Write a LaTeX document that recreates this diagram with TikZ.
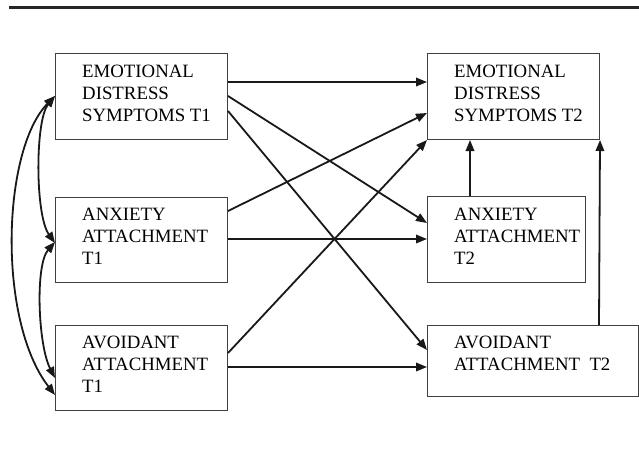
\documentclass[tikz,border=0pt]{standalone}
\usepackage{fontspec}
\setmainfont{Liberation Serif}
\usetikzlibrary{arrows.meta,calc}
\tikzset{
  box/.style={draw=black!75, line width=1pt, rectangle, inner sep=0pt, anchor=north west},
  lbl/.style={inner sep=0pt, anchor=north west, align=left, font=\fontsize{18.8}{22}\selectfont, text=black},
  arr/.style={draw=black!90, line width=1.8pt, -{Triangle[length=11pt,width=8.5pt]}},
  darr/.style={draw=black!90, line width=1.8pt, {Triangle[length=11pt,width=8.5pt]}-{Triangle[length=11pt,width=8.5pt]}},
  rulebar/.style={draw=black!85, line width=3pt}
}
\begin{document}
\begin{tikzpicture}[x=1pt,y=-1pt]
\useasboundingbox (0,0) rectangle (639,452);
\fill[white] (0,0) rectangle (639,452);
\coordinate (r1) at (9,7.5);
\coordinate (r2) at (639,7.5);
\draw[rulebar] (r1) -- (r2);

% boxes
\node[box, minimum width=172pt, minimum height=86pt] (eds1) at (55,53) {};
\node[box, minimum width=172pt, minimum height=85pt] (anx1) at (55,197) {};
\node[box, minimum width=172pt, minimum height=85pt] (avo1) at (55,325) {};
\node[box, minimum width=172pt, minimum height=86pt] (eds2) at (427,53) {};
\node[box, minimum width=158pt, minimum height=86pt] (anx2) at (427,196) {};
\node[box, minimum width=211pt, minimum height=71pt] (avo2) at (427,325) {};

% labels
\node[lbl] (teds1) at (82,64.7) {EMOTIONAL\\DISTRESS\\SYMPTOMS T1};
\node[lbl] (tanx1) at (82,207.7) {ANXIETY\\ATTACHMENT\\T1};
\node[lbl] (tavo1) at (82,335.7) {AVOIDANT\\ATTACHMENT\\T1};
\node[lbl] (teds2) at (454,64.7) {EMOTIONAL\\DISTRESS\\SYMPTOMS T2};
\node[lbl] (tanx2) at (454,207.7) {ANXIETY\\ATTACHMENT\\T2};
\node[lbl] (tavo2) at (454,335.7) {AVOIDANT\\ATTACHMENT\ \ T2};

% cross-lagged arrows
\draw[arr] ($(eds1.north east)+(0,29)$) -- ($(eds2.north west)+(0,29)$);
\draw[arr] ($(eds1.north east)+(0,43)$) -- ($(anx2.north west)+(0,27)$);
\draw[arr] ($(eds1.north east)+(0,58)$) -- ($(avo2.north west)+(0,25)$);
\draw[arr] ($(anx1.north east)+(0,14)$) -- ($(eds2.north west)+(0,60)$);
\draw[arr] ($(anx1.north east)+(0,42)$) -- ($(anx2.north west)+(0,43)$);
\draw[arr] ($(avo1.north east)+(0,28)$) -- (eds2.south west);
\draw[arr] ($(avo1.north east)+(0,42)$) -- ($(avo2.north west)+(0,42)$);

% vertical arrows
\draw[arr] ($(anx2.north west)+(43,0)$) -- ($(eds2.south west)+(43,0)$);
\draw[arr] ($(avo2.north west)+(172,0)$) -- (eds2.south east);

% correlations
\draw[darr] ($(eds1.north west)+(0,43)$) .. controls (35,120) and (35,215) .. ($(anx1.north west)+(0,46)$);
\draw[darr] ($(eds1.north west)+(0,43)$) .. controls (2,150) and (-3,320) .. ($(avo1.north west)+(0,70)$);
\draw[darr] ($(anx1.north west)+(0,45)$) .. controls (35,265) and (38,345) .. ($(avo1.north west)+(0,53)$);
\end{tikzpicture}
\end{document}
